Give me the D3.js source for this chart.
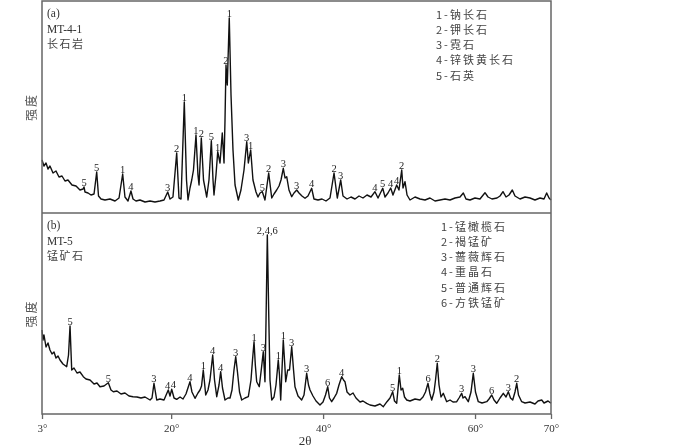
<!DOCTYPE html>
<html>
<head>
<meta charset="utf-8">
<script src="https://cdn.jsdelivr.net/npm/d3@7"></script>
<style>
    body { margin: 0; background: #fff; }
    svg { display: block; will-change: transform; }
    .serif { font-family: "Liberation Serif", "Times New Roman", serif; }
    .cjk { font-family: "Noto Sans CJK SC", sans-serif; }
</style>
</head>
<body>
<svg width="700" height="447"></svg>
<script>
/// panel (a) MT-4-1 trace: 2theta (deg) / intensity ///
const angleA = [3.00,3.26,3.53,3.79,4.05,4.45,4.84,5.24,5.63,6.03,6.42,6.95,7.48,8.00,8.40,8.53,8.66,9.06,9.45,9.85,
    10.20,10.44,10.77,11.29,11.95,12.61,13.14,13.62,13.92,14.32,14.71,14.98,15.37,15.90,16.56,17.22,17.87,18.53,19.06,19.55,
    19.85,20.24,20.73,21.03,21.30,21.73,22.02,22.22,22.48,22.71,22.94,23.27,23.53,23.67,23.97,24.26,24.68,24.98,25.29,25.51,
    25.64,25.90,26.13,26.43,26.73,26.96,27.09,27.22,27.39,27.65,27.88,28.14,28.41,28.84,29.19,29.59,29.95,30.16,30.47,30.77,
    31.17,31.43,31.70,32.00,32.35,32.84,33.24,33.54,33.89,34.20,34.46,34.76,34.99,35.21,35.51,35.87,36.17,36.53,36.83,37.22,
    37.62,38.01,38.50,38.80,39.33,39.86,40.38,40.91,41.44,41.87,42.32,42.62,43.15,43.67,44.20,44.73,45.25,45.78,46.31,46.83,
    47.23,47.85,48.15,48.54,48.90,49.20,49.69,49.99,50.35,50.52,50.78,51.05,51.44,52.10,52.76,53.42,54.07,54.73,55.39,56.05,
    56.71,57.36,58.02,58.46,58.81,59.34,59.99,60.65,61.31,61.71,62.23,62.89,63.29,63.68,64.08,64.47,64.91,65.26,65.92,66.58,
    67.24,67.89,68.55,69.08,69.43,69.74,70.00];
const intensityA = [530,470,500,440,470,400,420,360,370,320,330,280,270,230,240,260,210,200,180,190,
    410,170,140,130,140,120,150,390,160,120,220,140,120,130,110,120,110,120,130,210,
    140,160,600,150,140,1110,330,130,250,330,430,780,380,280,750,330,160,330,723,330,
    180,380,613,500,800,500,930,1480,1280,1950,1180,630,280,130,230,430,713,500,630,330,
    210,160,200,213,130,400,150,190,230,270,330,447,350,363,230,163,200,230,200,170,
    147,170,247,140,130,140,120,150,400,150,330,170,140,160,140,170,150,180,160,213,
    150,247,160,200,250,180,280,230,430,250,313,180,130,160,140,130,150,120,130,140,
    130,150,160,200,140,130,150,140,203,160,140,150,170,213,160,180,230,170,140,160,
    150,130,150,140,200,150,130];

/// panel (b) MT-5 trace ///
const angleB = [3.00,3.13,3.26,3.53,3.79,4.05,4.32,4.58,4.84,5.11,5.37,5.76,6.25,6.49,6.69,6.91,7.21,7.61,8.00,8.44,
    8.79,9.32,9.85,10.24,10.63,11.16,11.73,12.08,12.39,12.87,13.40,13.92,14.45,14.98,15.50,16.03,16.56,17.22,17.48,17.74,
    18.10,18.53,19.06,19.62,19.85,20.07,20.38,20.73,21.17,21.56,21.95,22.48,22.74,23.14,23.53,23.80,24.00,24.23,24.55,24.85,
    25.11,25.47,25.71,26.00,26.30,26.52,26.76,27.09,27.48,27.75,28.01,28.27,28.50,28.73,29.00,29.29,29.72,30.16,30.51,30.71,
    30.91,31.08,31.26,31.60,31.89,32.13,32.35,32.49,32.66,32.86,33.01,33.24,33.54,33.80,34.10,34.26,34.42,34.59,34.76,34.96,
    35.08,35.34,35.58,35.87,36.11,36.30,36.70,37.18,37.49,37.84,38.08,38.28,38.67,39.07,39.59,39.99,40.32,40.61,40.84,41.13,
    41.44,41.79,42.09,42.45,42.69,42.88,43.15,43.54,43.94,44.33,44.86,45.25,45.74,46.17,46.83,47.49,47.93,48.41,48.81,49.16,
    49.40,49.69,50.03,50.26,50.48,50.72,51.01,51.44,52.10,52.76,53.15,53.48,53.81,54.07,54.30,54.60,54.80,55.03,55.26,55.52,
    55.82,56.27,56.71,57.10,57.59,57.89,58.24,58.42,58.68,59.11,59.47,59.77,60.06,60.43,60.92,61.54,61.84,62.20,62.50,62.85,
    63.29,63.72,64.08,64.38,64.67,64.96,65.26,65.49,65.72,66.14,66.58,67.24,67.89,68.29,68.78,69.08,69.61,70.00];
const intensityB = [840,740,790,670,710,640,600,620,560,580,540,500,473,590,880,440,460,410,420,373,
    350,340,300,310,273,280,313,240,223,230,200,210,180,173,170,160,170,140,160,307,
    140,150,140,240,180,247,160,147,170,150,200,323,220,157,210,240,280,440,190,240,
    340,590,340,173,290,423,260,140,160,160,240,440,573,420,220,140,160,173,340,540,
    723,490,323,273,460,623,323,940,1790,940,340,140,170,290,540,390,140,440,740,490,
    323,440,440,673,440,273,180,140,190,407,290,240,180,130,90,120,190,273,160,123,
    160,207,290,373,340,323,220,190,210,160,120,130,107,90,80,100,73,123,160,223,
    130,107,390,240,257,170,140,130,150,140,170,220,307,200,140,220,340,507,290,170,
    207,123,140,120,123,160,207,160,173,123,220,407,220,123,110,123,150,190,140,107,
    160,207,170,223,160,140,220,307,190,123,110,120,100,130,140,110,130,107];

/// peak markers (angle where the number is written) ///
const peakAngleA = [8.53,10.20,13.62,14.71,19.55,20.73,21.73,23.27,23.97,25.29,26.13,27.22,27.65,29.95,30.47,32.00,32.84,34.76,36.53,38.50,41.44,42.32,46.83,47.85,48.90,49.69,50.35];
const peakTextA = ["5","5","1","4","3","2","1","1","2","5","1","2","1","3","1","5","2","3","3","4","2","3","4","5","4","4","2"];
const peakAngleB = [6.69,11.73,17.74,19.52,20.28,22.48,24.23,25.47,26.52,28.50,30.91,32.13,32.66,34.10,34.76,35.87,37.84,40.61,42.45,49.16,50.03,53.81,55.03,58.24,59.77,62.20,64.38,65.49];
const peakTextB = ["5","5","3","4","4","4","1","4","4","3","1","3","2,4,6","1","1","3","3","6","4","5","1","6","2","3","3","6","3","2"];

/// legends and labels ///
const legendA = ["1-钠长石", "2-钾长石", "3-霓石", "4-锌铁黄长石", "5-石英"];
const legendB = ["1-锰橄榄石", "2-褐锰矿", "3-蔷薇辉石", "4-重晶石", "5-普通辉石", "6-方铁锰矿"];
const sampleA = ["(a)", "MT-4-1", "长石岩"];
const sampleB = ["(b)", "MT-5", "锰矿石"];
const tickValues = [3, 20, 40, 60, 70];

let svg = d3.select("svg");

let left = 42, right = 551;
let plotTop = 1, mid = 213, bottom = 414;

let xScale = d3.scaleLinear().domain([3, 70]).range([left, right]);
let yScaleA = d3.scaleLinear().domain([0, 2120]).range([mid, plotTop]);
let yScaleB = d3.scaleLinear().domain([0, 2010]).range([bottom, mid]);

function drawPanel(angles, values, yScale, pAngles, pText, legend, sample, yTop, yBot) {
    let pts = angles.map((a, i) => [a, values[i]]);

    let line = d3.line()
        .x(d => xScale(d[0]))
        .y(d => yScale(d[1]));

    svg.append("path")
        .datum(pts)
        .attr("d", line)
        .attr("fill", "none")
        .attr("stroke", "#111")
        .attr("stroke-width", 1.4)
        .attr("stroke-linejoin", "round");

    /// peak numbers sit on top of the highest point near each peak ///
    svg.append("g")
        .selectAll("text")
        .data(pAngles)
        .enter()
        .append("text")
        .attr("class", "serif")
        .attr("x", d => xScale(d))
        .attr("y", d => {
            let near = pts.filter(p => Math.abs(p[0] - d) <= 0.25);
            return yScale(d3.max(near, p => p[1])) - 1;
        })
        .attr("text-anchor", "middle")
        .style("font-size", "10.5px")
        .attr("fill", "#222")
        .text((d, i) => pText[i]);

    /// legend ///
    svg.append("g")
        .selectAll("text")
        .data(legend)
        .enter()
        .append("text")
        .attr("class", "cjk")
        .attr("x", legend.length == 5 ? 436 : 441)
        .attr("y", (d, i) => yTop + 17.5 + i * 15.3)
        .style("font-size", "11px")
        .style("letter-spacing", "2px")
        .attr("fill", "#444")
        .text(d => d);

    /// sample name ///
    svg.append("text").attr("class", "serif")
        .attr("x", 47).attr("y", yTop + 16)
        .style("font-size", "11.5px").attr("fill", "#333")
        .text(sample[0]);
    svg.append("text").attr("class", "serif")
        .attr("x", 47).attr("y", yTop + 32)
        .style("font-size", "11.5px").attr("fill", "#333")
        .text(sample[1]);
    svg.append("text").attr("class", "cjk")
        .attr("x", 47).attr("y", yTop + 47)
        .style("font-size", "11px").style("letter-spacing", "1.5px").attr("fill", "#444")
        .text(sample[2]);

    /// vertical chart text ///
    svg.append("text")
        .attr("class", "cjk")
        .attr("transform", `translate(36, ${(yTop + yBot) / 2 + 14}) rotate(-90)`)
        .style("font-size", "12px")
        .style("letter-spacing", "2px")
        .attr("fill", "#555")
        .text("强度");
}

drawPanel(angleA, intensityA, yScaleA, peakAngleA, peakTextA, legendA, sampleA, plotTop, mid);
drawPanel(angleB, intensityB, yScaleB, peakAngleB, peakTextB, legendB, sampleB, mid, bottom);

/// frame ///
svg.append("rect")
    .attr("x", left).attr("y", plotTop)
    .attr("width", right - left).attr("height", bottom - plotTop)
    .attr("fill", "none")
    .attr("stroke", "#666")
    .attr("stroke-width", 1.5);

svg.append("line")
    .attr("x1", left).attr("x2", right)
    .attr("y1", mid).attr("y2", mid)
    .attr("stroke", "#666")
    .attr("stroke-width", 1.5);

/// x axis ///
let xAxis = svg.append("g")
    .attr("transform", `translate(0, ${bottom})`)
    .call(d3.axisBottom(xScale)
        .tickValues(tickValues)
        .tickSize(5)
        .tickFormat(d => d + "°"));

xAxis.select(".domain").remove();
xAxis.selectAll("line").attr("stroke", "#666").attr("stroke-width", 1.3);
xAxis.selectAll("text")
    .attr("class", "serif")
    .attr("dy", "0.9em")
    .style("font-size", "11px")
    .attr("fill", "#333");

svg.append("text")
    .attr("class", "serif")
    .attr("x", 305)
    .attr("y", 445)
    .attr("text-anchor", "middle")
    .style("font-size", "13px")
    .attr("fill", "#333")
    .text("2θ");
</script>
</body>
</html>
